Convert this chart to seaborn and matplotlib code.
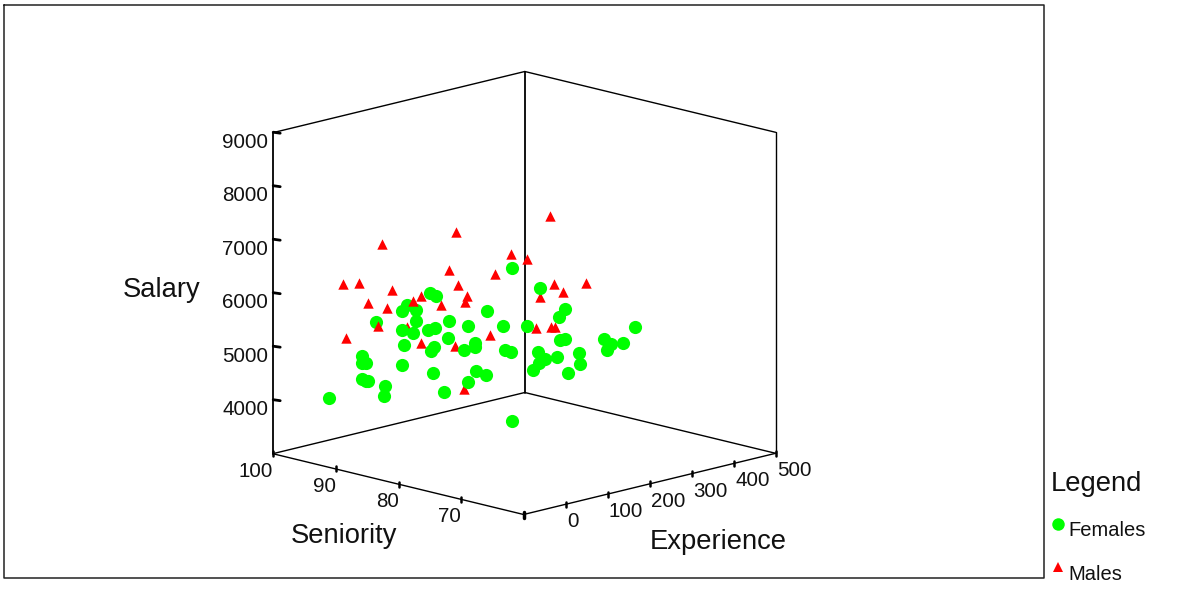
import matplotlib
matplotlib.use("Agg")
import matplotlib.pyplot as plt
import pandas as pd
import seaborn as sns

# values (one projection, so seniority/experience split is an estimate)
female_seniority = [98, 96, 96, 96, 96, 96, 96, 91, 91, 91,
                    87, 87, 87, 87, 87, 87, 87, 87, 87, 87, 87, 87, 87, 87, 87,
                    82, 82, 82, 82, 82, 82, 82, 82, 82,
                    77, 77, 77, 77, 77, 77, 77, 77,
                    73, 73, 73, 73, 73, 73, 73, 73, 73, 73, 73, 73, 73,
                    70, 70, 70, 70, 70]
female_experience = [3, 52, 52, 61, 52, 61, 66, 10, 32, 30,
                     79, 94, 25, 13, 46, 46, 91, 75, 13, 39, 17, 89, 82, 13, 86,
                     50, 95, 47, 112, 112, 85, 114, 95, 38,
                     125, 66, 104, 161, 109, 123, 63, 125,
                     132, 192, 177, 192, 180, 127, 144, 130, 173, 225, 227, 115, 199,
                     314, 240, 256, 247, 285]
female_salary = [3895, 4645, 4514, 4495, 4215, 4159, 4150, 5501, 4264, 4080,
                 6022, 5940, 5903, 5813, 5768, 5563, 5346, 5340, 5458, 5353, 5170, 4996, 4935, 4804, 4514,
                 5697, 5518, 5385, 5168, 5093, 5088, 4641, 4471, 4393,
                 6686, 5996, 5643, 5535, 5185, 5121, 4804, 3826,
                 6413, 5907, 5785, 5346, 5351, 5226, 5064, 5017, 5047, 5021, 4811, 4912, 4697,
                 5422, 5340, 5215, 5120, 5178]

male_seniority = [96, 96, 96, 96, 91, 91, 91, 91, 87, 87, 87, 87,
                  82, 82, 82, 82, 82, 82, 82, 82,
                  77, 77, 77, 77,
                  73, 73, 73, 73, 73, 73, 73, 73]
male_experience = [6, 45, 66, 14, 25, 49, 37, 15, 58, 39, 25, 58,
                   66, 50, 71, 93, 88, 31, 64, 85,
                   123, 161, 85, 73,
                   156, 165, 242, 187, 132, 123, 158, 168]
male_salary = [6077, 6022, 5607, 5054, 6931, 6026, 5712, 5417, 6007, 5951, 5492, 5129,
               7329, 6650, 6329, 6084, 5979, 6034, 5204, 4359,
               6953, 6787, 6650, 5535,
               7714, 6424, 6297, 6234, 6245, 5684, 5634, 5617]
front_males = [7, 9]  # these two sit on top of the green dots

salary_ticks = [4000, 5000, 6000, 7000, 8000, 9000]
seniority_ticks = [100, 90, 80, 70]
experience_ticks = [0, 100, 200, 300, 400, 500]


# oblique projection of the 3d box onto the page, in pixels
def project(seniority, experience, salary):
    s = seniority - 60
    e = experience + 100
    sx = 524 - 6.27 * s + 0.42 * e
    sy = 514 - 1.52 * s - 0.102 * e - 0.0535 * (salary - 3000)
    return sx, sy


def points(seniority, experience, salary):
    df = pd.DataFrame({"Seniority": seniority, "Experience": experience, "Salary": salary})
    df["sx"], df["sy"] = project(df["Seniority"], df["Experience"], df["Salary"])
    return df


def line(ax, a, b, lw=1.0):
    xa, ya = project(*a)
    xb, yb = project(*b)
    ax.plot([xa - 0.4, xb - 0.4], [ya + 0.5, yb + 0.5], color="black", lw=lw, solid_capstyle="round", zorder=1)


sns.set_theme(style="white")
plt.rcParams["font.family"] = ["Liberation Sans", "DejaVu Sans"]

fig = plt.figure(figsize=(11.88, 6.09), dpi=100)
ax = fig.add_axes([0, 0, 1, 1])

females = points(female_seniority, female_experience, female_salary)
males = points(male_seniority, male_experience, male_salary)
is_front = males.index.isin(front_males)

# Scatter layers
sns.scatterplot(data=males[~is_front], x="sx", y="sy", ax=ax, color="#ff0000", marker="^",
                s=56, linewidth=0, zorder=3)
sns.scatterplot(data=females, x="sx", y="sy", ax=ax, color="#00ff00", marker="o",
                s=90, linewidth=0, zorder=4)
sns.scatterplot(data=males[is_front], x="sx", y="sy", ax=ax, color="#ff0000", marker="^",
                s=56, linewidth=0, zorder=5)

# Box edges
line(ax, (100, -100, 3000), (60, -100, 3000))
line(ax, (60, -100, 3000), (60, 500, 3000))
line(ax, (100, -100, 3000), (100, 500, 3000))
line(ax, (100, 500, 3000), (60, 500, 3000))
line(ax, (100, -100, 3000), (100, -100, 9000), lw=1.3)
line(ax, (60, 500, 3000), (60, 500, 9000))
line(ax, (100, 500, 3000), (100, 500, 9000), lw=1.3)
line(ax, (100, -100, 9000), (100, 500, 9000))
line(ax, (100, 500, 9000), (60, 500, 9000))

# Salary ticks
for v in salary_ticks:
    x, y = project(100, -100, v)
    ax.plot([x, x + 7], [y, y + 1], color="black", lw=2, zorder=2)
    ax.text(x - 5, y + 10, str(v), ha="right", va="center", fontsize=14.8, color="#111111")

# Seniority ticks
for v in seniority_ticks:
    x, y = project(v, -100, 3000)
    ax.plot([x, x], [y - 2, y + 3], color="black", lw=1.8, zorder=2)
    ax.text(x, y + 18, str(v), ha="right", va="center", fontsize=14.8, color="#111111")

# Experience ticks
for v in experience_ticks:
    x, y = project(60, v, 3000)
    ax.plot([x, x], [y - 2, y + 3], color="black", lw=1.8, zorder=2)
    ax.text(x + 1, y + 18, str(v), ha="left", va="center", fontsize=14.8, color="#111111")
x0, y0 = project(60, -100, 3000)
ax.plot([x0, x0], [y0 - 2, y0 + 4], color="black", lw=2.5, zorder=2)

# Axis titles
ax.text(162, 290, "Salary", ha="center", va="center", fontsize=19.7, color="#111111")
ax.text(344, 536, "Seniority", ha="center", va="center", fontsize=19.7, color="#111111")
ax.text(718, 542, "Experience", ha="center", va="center", fontsize=19.7, color="#111111")

# Outer frame
ax.plot([4, 1044, 1044, 4, 4], [5, 5, 578, 578, 5], color="#222222", lw=1.1)

# Legend
ax.text(1051, 484, "Legend", ha="left", va="center", fontsize=19.7, color="#111111")
ax.plot([1058], [524], marker="o", ms=9, color="#00ff00", mew=0)
ax.text(1068, 531, "Females", ha="left", va="center", fontsize=14.5, color="#111111")
ax.plot([1058], [567], marker="^", ms=6.5, color="#ff0000", mew=0)
ax.text(1068, 575, "Males", ha="left", va="center", fontsize=14.5, color="#111111")

ax.set_xlim(0, 1188)
ax.set_ylim(609, 0)
ax.set_axis_off()

fig.savefig("out.png", dpi=100)
